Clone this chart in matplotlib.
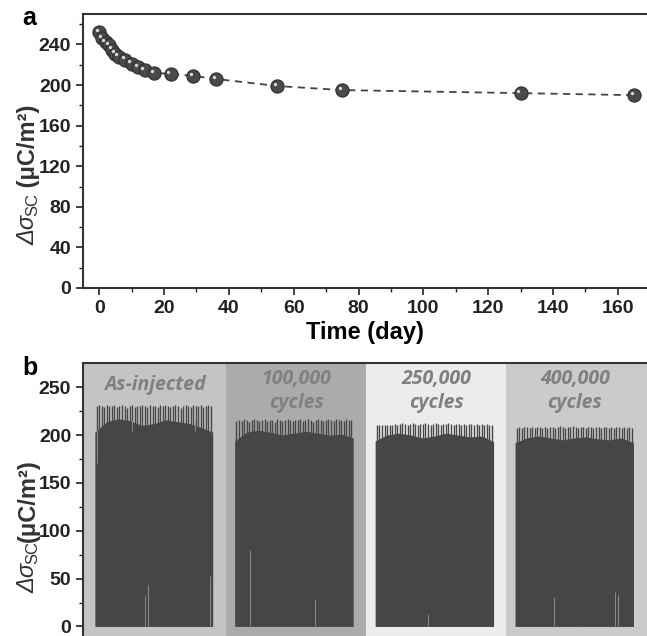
"""
电荷密度衰减 (a) 与循环稳定性 (b)
"""
import matplotlib
matplotlib.use('Agg')
import matplotlib.pyplot as plt
import matplotlib.transforms as mtransforms
import numpy as np

plt.rcParams['font.family'] = ['Liberation Sans', 'DejaVu Sans']

# ---- (a) 随时间衰减 ----
days = [0, 1, 2, 3, 4, 5, 6, 8, 10, 12, 14, 17, 22, 29, 36, 55, 75, 130, 165]
charge = [252, 246, 242, 239, 235, 231, 228, 225, 221, 218, 215, 212,
          211, 209, 206, 199, 195, 192, 190]

# ---- (b) 四个阶段 ----
band_edges = [0, 25.4, 50.1, 75, 100]
band_colors = ['#c4c4c4', '#ababab', '#ececec', '#cbcbcb']
stage_labels = ['As-injected', '100,000\ncycles', '250,000\ncycles', '400,000\ncycles']
label_x = [12.8, 37.8, 62.7, 87.2]
label_y = [252, 246, 246, 246]
block_spans = [(2.1, 23.0), (26.9, 47.9), (51.8, 72.8), (76.6, 97.6)]
# 波形主体上沿
body = [
    [203, 214, 217, 215, 210, 212, 216, 214, 212, 208, 203],
    [194, 203, 205, 203, 200, 202, 204, 202, 200, 201, 197],
    [194, 200, 202, 200, 197, 199, 202, 200, 198, 199, 193],
    [192, 197, 199, 197, 195, 197, 198, 196, 195, 197, 192],
]
# 峰值 (梳齿)
peaks = [
    [230, 231, 230, 229, 231, 230, 230, 231, 229, 230, 231, 230, 228, 230, 231, 229,
     230, 230, 231, 230, 229, 231, 230, 230, 229, 231, 230, 231, 230, 229, 230, 231,
     230, 228, 230, 231, 230, 229, 231, 230, 230, 231, 229, 230, 231, 230],
    [215, 216, 215, 217, 216, 214, 216, 217, 216, 215, 216, 217, 215, 216, 216, 214,
     217, 216, 215, 216, 217, 216, 215, 216, 216, 217, 215, 216, 217, 216, 214, 216,
     217, 216, 215, 216, 217, 216, 215, 217, 216, 216, 215, 217, 216, 216],
    [210, 211, 210, 211, 210, 211, 211, 212, 211, 212, 213, 212, 211, 212, 213, 212,
     211, 212, 212, 213, 212, 211, 212, 213, 212, 211, 212, 212, 213, 212, 211, 212,
     212, 211, 212, 211, 212, 212, 211, 212, 211, 212, 211, 212, 211, 210],
    [207, 208, 207, 208, 208, 207, 208, 207, 208, 208, 207, 208, 207, 208, 208, 207,
     208, 209, 208, 207, 208, 208, 209, 208, 207, 208, 208, 207, 208, 208, 207, 208,
     208, 207, 208, 208, 207, 208, 207, 208, 208, 207, 208, 207, 208, 207],
]
# 浅色缺口 (x, 下, 上)
gap_x = [2.5, 8.7, 19.8, 11.05, 11.6, 22.5, 29.6, 41.1, 61.2, 83.5, 94.3, 94.8]
gap_lo = [171, 204, 204, 0, 0, 0, 0, 0, 0, 0, 0, 0]
gap_hi = [205, 216, 214, 32, 43, 53, 80, 29, 13, 31, 36, 33]

dark = '#464646'
gap_color = '#8c8c8c'
lab_color = '#333333'
tick_kw = dict(direction='out', width=1.2, colors='#222222', labelsize=14)


def stacked_ylabel(fig, x_px, y_px, parts):
    """ 竖排拼接 y 轴标题 (斜体 Δσ + 下标 + 单位)
    param
        x_px, y_px: 起点, 像素 (自图底)
        parts: [(文本, 字号, 样式, 粗细, x偏移)]
    """
    W, H = fig.bbox.width, fig.bbox.height
    renderer = fig.canvas.get_renderer()
    y = y_px
    for txt, size, style, weight, dx in parts:
        t = fig.text((x_px + dx) / W, y / H, txt, rotation=90, ha='center',
                     va='bottom', fontsize=size, style=style, fontweight=weight,
                     color=lab_color)
        bb = t.get_window_extent(renderer)
        y = bb.y1 - 1


fig = plt.figure(figsize=(6.47, 6.36), dpi=100)
axA = fig.add_axes([0.1283, 0.5472, 0.8717, 0.4308])
axB = fig.add_axes([0.1283, 0.0, 0.8717, 0.4288])

# ---------- (a) ----------
axA.plot(days, charge, ls=(0, (4, 3)), color='#444444', lw=1.3, zorder=2)
axA.plot(days, charge, ls='none', marker='o', ms=9.5, mfc='#4a4a4a',
         mec='#2e2e2e', mew=0.8, zorder=3)
shine = mtransforms.offset_copy(axA.transData, fig=fig, x=-1.6, y=1.6, units='points')
axA.plot(days, charge, ls='none', marker='o', ms=2.4, mfc='#d8d8d8', mec='none',
         transform=shine, zorder=4)
axA.set_xlim(-5, 169)
axA.set_ylim(0, 270)
axA.set_xticks(np.arange(0, 161, 20))
axA.set_xticks(np.arange(0, 170, 10), minor=True)
axA.set_yticks(np.arange(0, 241, 40))
axA.set_yticks(np.arange(0, 270, 20), minor=True)
axA.set_xlabel('Time (day)', fontsize=17, fontweight='bold', labelpad=3)

# ---------- (b) ----------
for i in range(4):
    axB.axvspan(band_edges[i], band_edges[i + 1], color=band_colors[i], lw=0, zorder=0)
    x0, x1 = block_spans[i]
    xb = np.linspace(x0, x1, len(body[i]))
    axB.fill_between(xb, 0, body[i], color=dark, lw=0, zorder=1)
    xt = np.linspace(x0 + 0.3, x1 - 0.3, len(peaks[i]))
    axB.vlines(xt, 0, peaks[i], color=dark, lw=1.0, zorder=1)
    axB.text(label_x[i], label_y[i], stage_labels[i], ha='center', va='center',
             fontsize=14, fontweight='bold', style='italic', color='#808080',
             family=['Open Sans', 'DejaVu Sans'], linespacing=1.25, zorder=3)
axB.vlines(gap_x, gap_lo, gap_hi, color=gap_color, lw=0.7, zorder=2)
axB.set_xlim(0, 100)
axB.set_ylim(-10, 275)
axB.set_xticks([])
axB.set_yticks(np.arange(0, 251, 50))
axB.set_yticks(np.arange(0, 275, 25), minor=True)

for ax in (axA, axB):
    ax.spines['right'].set_visible(False)
    for s in ('left', 'top', 'bottom'):
        ax.spines[s].set_linewidth(1.5)
        ax.spines[s].set_color('#333333')
    ax.tick_params(which='major', length=5, **tick_kw)
    ax.tick_params(which='minor', length=3, direction='out', width=1.0, colors='#222222')
    for lab in ax.get_xticklabels() + ax.get_yticklabels():
        lab.set_fontweight('bold')
axB.spines['bottom'].set_visible(False)

# y 轴标题
stacked_ylabel(fig, 28, 391, [('Δσ', 17, 'italic', 'normal', 0),
                              ('SC', 12, 'normal', 'normal', 5),
                              (' (μC/m²)', 17, 'normal', 'bold', 0)])
stacked_ylabel(fig, 28, 43, [('Δσ', 17, 'italic', 'normal', 0),
                             ('SC', 12, 'normal', 'normal', 5),
                             ('(μC/m²)', 17, 'normal', 'bold', 0)])

fig.text(0.034, 0.9607, 'a', fontsize=18, fontweight='bold', va='baseline')
fig.text(0.034, 0.4104, 'b', fontsize=18, fontweight='bold', va='baseline')

fig.savefig('out.png', dpi=100)
